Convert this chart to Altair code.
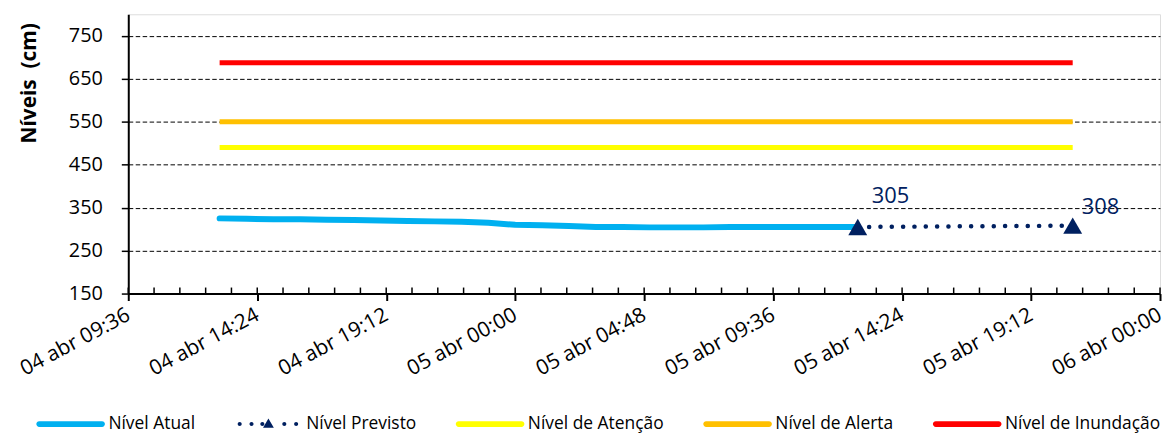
import altair as alt
import pandas as pd

# ---------------- data ----------------
atual_t = [
    "2025-04-04T13:00:00", "2025-04-04T14:00:00", "2025-04-04T15:00:00", "2025-04-04T16:00:00",
    "2025-04-04T17:00:00", "2025-04-04T18:00:00", "2025-04-04T19:00:00", "2025-04-04T20:00:00",
    "2025-04-04T21:00:00", "2025-04-04T22:00:00", "2025-04-04T23:00:00", "2025-04-05T00:00:00",
    "2025-04-05T01:00:00", "2025-04-05T02:00:00", "2025-04-05T03:00:00", "2025-04-05T04:00:00",
    "2025-04-05T05:00:00", "2025-04-05T06:00:00", "2025-04-05T07:00:00", "2025-04-05T08:00:00",
    "2025-04-05T09:00:00", "2025-04-05T10:00:00", "2025-04-05T11:00:00", "2025-04-05T12:00:00",
    "2025-04-05T12:45:00",
]
atual_v = [325, 324, 323, 323, 322, 321, 320, 319, 318, 317, 315, 310, 309, 307, 305,
           305, 304, 304, 304, 305, 305, 305, 305, 305, 305]

prev_t = ["2025-04-05T12:45:00", "2025-04-05T20:45:00"]
prev_v = [305, 308]

limiar_nomes = ["Nível de Atenção", "Nível de Alerta", "Nível de Inundação"]
limiar_valores = [490, 550, 687]
limiar_inicio = "2025-04-04T13:00:00"
limiar_fim = "2025-04-05T20:45:00"

series = ["Nível Atual", "Nível Previsto", "Nível de Atenção", "Nível de Alerta", "Nível de Inundação"]
cores = ["#00B0F0", "#002060", "#FFFF00", "#FFC000", "#FF0000"]
cor_limiar = ["#FFFF00", "#FFC000", "#FF0000"]

y_ticks = [150, 250, 350, 450, 550, 650, 750]
x_inicio = pd.Timestamp("2025-04-04T09:36:00")
x_fim = pd.Timestamp("2025-04-06T00:00:00")

# ---------------- tables ----------------
df_atual = pd.DataFrame({"t": atual_t, "v": atual_v})
df_prev = pd.DataFrame({"t": prev_t, "v": prev_v, "lab": [str(v) for v in prev_v]})
rows = []
for n, v, c in zip(limiar_nomes, limiar_valores, cor_limiar):
    rows.append({"serie": n, "t": limiar_inicio, "v": v, "cor": c})
    rows.append({"serie": n, "t": limiar_fim, "v": v, "cor": c})
df_lim = pd.DataFrame(rows)

majors = pd.date_range(x_inicio, x_fim, freq=pd.Timedelta(hours=4.8))
minors = pd.date_range(x_inicio, x_fim, freq=pd.Timedelta(minutes=57.6))
df_minor = pd.DataFrame({"t": [m.strftime("%Y-%m-%dT%H:%M:%S") for m in minors]})


def dt(ts):
    return alt.DateTime(year=ts.year, month=ts.month, date=ts.day, hours=ts.hour, minutes=ts.minute)


df_leg = pd.DataFrame({"serie": series, "t": [limiar_inicio] * 5, "v": [100] * 5})

# legend symbol paths (unit square, scaled by symbol size)
bar = "M-0.93,-0.085H0.93A0.085,0.085 0 0 1 0.93,0.085H-0.93A0.085,0.085 0 0 1 -0.93,-0.085Z"
dots = ""
for cx in [-0.85, -0.5, -0.18, 0.47, 0.82]:
    dots += f"M{cx-0.06:.3f},0A0.06,0.06 0 1 0 {cx+0.06:.3f},0A0.06,0.06 0 1 0 {cx-0.06:.3f},0Z"
prev_path = dots + "M0,-0.16L0.16,0.11L-0.16,0.11Z"
shapes = [bar, prev_path, bar, bar, bar]

FONT = "Open Sans"

x_enc = alt.X(
    "t:T",
    title=None,
    scale=alt.Scale(domain=[dt(x_inicio), dt(x_fim)]),
    axis=alt.Axis(
        values=[dt(m) for m in majors],
        format="%d abr %H:%M",
        labelAngle=332,
        labelAlign="right",
        labelBaseline="middle",
        labelPadding=13,
        labelFontSize=21,
        labelFont=FONT,
        labelColor="#000000",
        labelOverlap=False,
        labelFlush=False,
        tickSize=7,
        tickWidth=2,
        tickColor="#000000",
        domainColor="#000000",
        domainWidth=2,
        grid=False,
    ),
)
y_enc = alt.Y(
    "v:Q",
    scale=alt.Scale(domain=[150, 800], nice=False, zero=False),
    axis=alt.Axis(
        values=y_ticks,
        title="Níveis\u00a0 (cm)",
        titleFont=FONT,
        titleFontSize=21,
        titleFontWeight="bold",
        titleColor="#000000",
        titleAngle=270,
        titleAlign="center",
        titleBaseline="middle",
        titleX=-99,
        titleY=69,
        labelFontSize=20,
        labelFont=FONT,
        labelColor="#000000",
        labelPadding=19,
        tickSize=7,
        tickWidth=1.5,
        tickColor="#000000",
        domainColor="#000000",
        domainWidth=2,
        grid=True,
        gridColor="#000000",
        gridDash=[4.5, 2.5],
        gridWidth=1,
    ),
)

lim = alt.Chart(df_lim).mark_line(strokeWidth=5).encode(
    x=x_enc, y=y_enc, color=alt.Color("cor:N", scale=None), detail="serie:N"
)
atual = alt.Chart(df_atual).mark_line(
    strokeWidth=6, strokeCap="round", strokeJoin="round", color="#00B0F0"
).encode(x=x_enc, y=y_enc)
prev_line = alt.Chart(df_prev).mark_line(
    strokeWidth=4.5, strokeCap="round", strokeDash=[0.1, 11.3], color="#002060"
).encode(x=x_enc, y=y_enc)
tri = alt.Chart(df_prev).mark_point(
    shape="triangle-up", filled=True, size=361, color="#002060", opacity=1
).encode(x=x_enc, y=y_enc)
lab1 = alt.Chart(df_prev).transform_filter(alt.datum.v == prev_v[0]).mark_text(
    align="left", baseline="middle", dx=14, dy=-31, fontSize=22, font=FONT, color="#002060"
).encode(x=x_enc, y=y_enc, text="lab:N")
lab2 = alt.Chart(df_prev).transform_filter(alt.datum.v == prev_v[1]).mark_text(
    align="left", baseline="middle", dx=9, dy=-19, fontSize=22, font=FONT, color="#002060"
).encode(x=x_enc, y=y_enc, text="lab:N")
minor = alt.Chart(df_minor).mark_rule(color="#000000", strokeWidth=1.5).encode(
    x=x_enc, y=alt.datum(150), y2=alt.datum(164)
)

leg = alt.Legend(
    title=None,
    orient="none",
    legendX=-92,
    legendY=378,
    direction="horizontal",
    symbolSize=4624,
    symbolStrokeWidth=0,
    labelFontSize=17.5,
    labelFont=FONT,
    labelColor="#000000",
    labelOffset=4,
    columnPadding=39,
    labelLimit=400,
    padding=0,
)
legend_layer = alt.Chart(df_leg).mark_point(filled=True, opacity=1, clip=True, strokeWidth=0).encode(
    x=x_enc,
    y=y_enc,
    color=alt.Color("serie:N", scale=alt.Scale(domain=series, range=cores), legend=leg),
    shape=alt.Shape("serie:N", scale=alt.Scale(domain=series, range=shapes), legend=leg),
)

chart = alt.layer(lim, atual, prev_line, tri, lab1, lab2, minor, legend_layer).properties(
    width=1038,
    height=281,
    autosize=alt.AutoSizeParams(type="none"),
    padding={"left": 121, "top": 5, "right": 5, "bottom": 141},
).configure_view(stroke="transparent").configure(background="#ffffff")

chart.save("out.html", embed_options={"renderer": "svg", "actions": False})
